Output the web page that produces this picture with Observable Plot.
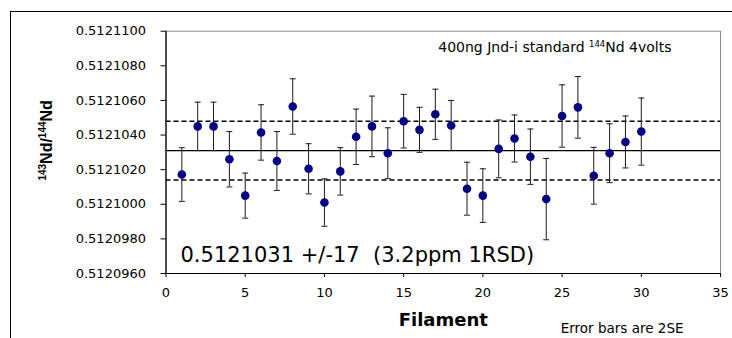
<!DOCTYPE html>
<html>
<head>
<meta charset="utf-8">
<script src="https://cdn.jsdelivr.net/npm/d3@7"></script>
<script src="https://cdn.jsdelivr.net/npm/@observablehq/plot@0.6"></script>
<style>
  html, body { margin: 0; padding: 0; background: #fff; }
  #wrap { position: relative; width: 732px; height: 338px; overflow: hidden; }
  #wrap svg { display: block; }
  #outer { position: absolute; left: 10px; top: 11px; right: -2px; bottom: -2px;
           border-left: 1.3px solid #000; border-top: 1.3px solid #000; pointer-events: none; }
</style>
</head>
<body>
<div id="wrap"><div id="outer"></div></div>
<script>
// ---- data ----
const filament = [1,2,3,4,5,6,7,8,9,10,11,12,13,14,15,16,17,18,19,20,21,22,23,24,25,26,27,28,29,30];
const ratio = [0.51210172,0.5121045,0.5121045,0.5121026,0.5121005,0.51210415,0.5121025,0.51210565,0.51210205,0.5121001,
               0.5121019,0.5121039,0.5121045,0.51210295,0.5121048,0.5121043,0.5121052,0.51210455,0.5121009,0.5121005,
               0.5121032,0.5121038,0.51210275,0.5121003,0.5121051,0.5121056,0.51210165,0.51210295,0.5121036,0.5121042];
// 2SE error, in units of 1e-7
const err2SE = [15.5,14,14,16,13,16,17,16,14.5,13.7,
                13.7,16,17.5,14.7,15.5,13,14.5,14.5,15.3,15.5,
                16.7,13.6,16,23.5,18,17.8,16.4,17,15,19.4];
const meanRatio = 0.5121031;
const band = 0.0000017;           // +/-17
const yTicks = [0.5120960,0.5120980,0.5121000,0.5121020,0.5121040,0.5121060,0.5121080,0.5121100];
const xTicks = [0,5,10,15,20,25,30,35];
const yDomain = [0.5120960, 0.5121100];
const xDomain = [0, 35];
// texts with superscripts: [text, isSuperscript]
const yLabelParts = [["143", true], ["Nd/", false], ["144", true], ["Nd", false]];
const noteParts = [["400ng Jnd-i standard ", false], ["144", true], ["Nd 4volts", false]];
const statText = "0.5121031 +/-17  (3.2ppm 1RSD)";
const xLabel = "Filament";
const errNote = "Error bars are 2SE";

const data = filament.map((f, i) => ({
  f, v: ratio[i], lo: ratio[i] - err2SE[i] * 1e-7, hi: ratio[i] + err2SE[i] * 1e-7
}));

const capSymbol = {
  draw(ctx, size) {
    const w = Math.sqrt(size / Math.PI);
    ctx.moveTo(-w, 0); ctx.lineTo(w, 0);
  }
};

const FONT = "DejaVu Sans, Verdana, sans-serif";
const joined = parts => parts.map(p => p[0]).join("");

const chart = Plot.plot({
  width: 732, height: 338,
  marginLeft: 165.5, marginRight: 12, marginTop: 30.7, marginBottom: 65,
  style: { fontFamily: FONT, fontSize: "13px", background: "transparent", color: "#000", overflow: "visible" },
  x: { domain: xDomain },
  y: { domain: yDomain },
  marks: [
    Plot.frame({ stroke: "#8a8a8a", strokeWidth: 1 }),
    Plot.ruleX([xDomain[0]], { stroke: "#000", strokeWidth: 1.2 }),
    Plot.ruleY([yDomain[0]], { stroke: "#000", strokeWidth: 1.2 }),
    Plot.axisY({ ticks: yTicks, tickFormat: d3.format(".7f"), tickSize: 5, tickPadding: 15, label: null, fontSize: 13 }),
    Plot.axisX({ ticks: xTicks, tickSize: 4, tickPadding: 10, label: null, fontSize: 13 }),
    Plot.ruleY([meanRatio], { stroke: "#000", strokeWidth: 1.2 }),
    Plot.ruleY([meanRatio + band, meanRatio - band], { stroke: "#000", strokeWidth: 1.6, strokeDasharray: "5,3" }),
    Plot.ruleX(data, { x: "f", y1: "lo", y2: "hi", stroke: "#1a1a1a", strokeWidth: 1 }),
    Plot.dot(data, { x: "f", y: "lo", symbol: capSymbol, r: 3, stroke: "#1a1a1a", fill: "none", strokeWidth: 1 }),
    Plot.dot(data, { x: "f", y: "hi", symbol: capSymbol, r: 3, stroke: "#1a1a1a", fill: "none", strokeWidth: 1 }),
    Plot.dot(data, { x: "f", y: "v", r: 4.3, fill: "#000086", stroke: "none" }),
    Plot.text([joined(noteParts)], {
      frameAnchor: "top-right", dx: -49, dy: 16.5, textAnchor: "end", lineAnchor: "middle", fontSize: 14
    }),
    Plot.text([statText], {
      frameAnchor: "bottom-left", dx: 14.5, dy: -18.7, textAnchor: "start", lineAnchor: "middle", fontSize: 21
    }),
    Plot.text([joined(yLabelParts)], {
      frameAnchor: "left", rotate: -90, dx: -119.5, dy: -12, textAnchor: "middle", lineAnchor: "middle",
      fontSize: 16, fontWeight: "bold"
    }),
    Plot.text([xLabel], {
      frameAnchor: "bottom", dy: 47, textAnchor: "middle", lineAnchor: "middle", fontSize: 18, fontWeight: "bold"
    }),
    Plot.text([errNote], {
      frameAnchor: "bottom-right", dx: -37, dy: 55, textAnchor: "end", lineAnchor: "middle", fontSize: 13.5
    })
  ]
});

// rebuild texts that carry superscripts as tspans
function withSup(parts, mainSize, supSize, shift, family) {
  const target = joined(parts);
  d3.select(chart).selectAll("text").each(function () {
    if (this.textContent !== target) return;
    const t = d3.select(this);
    t.text(null).attr("text-anchor", t.attr("text-anchor") || null);
    if (family) t.attr("font-family", family);
    let raised = false;
    for (const [s, sup] of parts) {
      const sp = t.append("tspan").text(s).attr("font-size", sup ? supSize : mainSize);
      if (sup && !raised) { sp.attr("dy", -shift); raised = true; }
      else if (!sup && raised) { sp.attr("dy", shift); raised = false; }
    }
  });
}
withSup(noteParts, 14, 8.5, 5, null);
withSup(yLabelParts, 16, 10, 6, "Liberation Sans, Arial, sans-serif");
// make sure the rotated y label is centred on its anchor
d3.select(chart).selectAll("text").filter(function () { return this.textContent === joined(yLabelParts); })
  .attr("text-anchor", "middle");

document.getElementById("wrap").prepend(chart);
</script>
</body>
</html>
